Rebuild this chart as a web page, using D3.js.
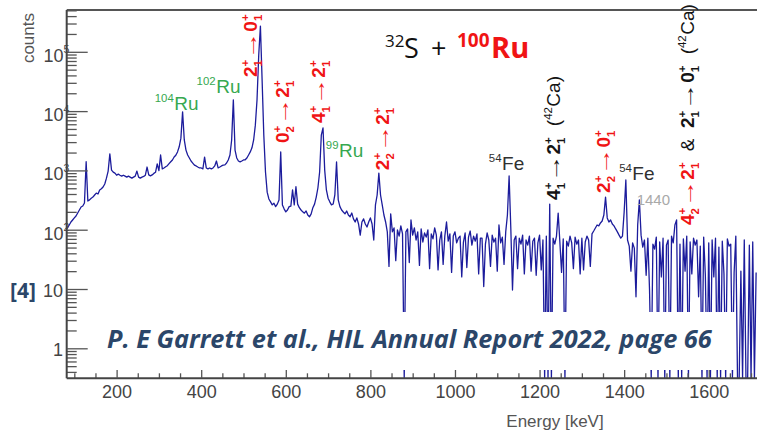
<!DOCTYPE html>
<html>
<head>
<meta charset="utf-8">
<script src="https://d3js.org/d3.v7.min.js"></script>
<style>
  html, body { margin: 0; padding: 0; background: #fff; }
  svg { display: block; }
  svg text { white-space: pre; }
</style>
</head>
<body>
<svg id="chart" width="757" height="433"></svg>
<script>
// ---- spectrum: gamma-ray counts in 4 keV bins, first bin centred at 80 keV ----
const binStart = 80;
const binWidth = 4;
const counts = [
  103,107,120,135,146,158,170,191,215,242,251,282,1400,305,318,340,355,385,415,400,
  468,490,525,590,740,975,1900,1010,935,900,830,865,830,800,830,800,770,800,770,740,
  770,800,975,770,740,770,790,830,1140,840,810,840,890,930,1290,990,1820,1060,1100,1150,
  1200,1300,1400,1500,1680,1800,2050,2500,3500,9700,3260,2200,1820,1620,1440,1330,1230,1190,1140,1100,
  1100,1060,1680,1100,1060,1100,1060,1100,1190,1440,1100,1140,1190,1230,1240,1330,1500,1820,3260,15500,
  2200,1620,1440,1390,1440,1500,1510,1620,1820,2050,2400,3260,5800,15500,87000,272000,33500,3950,940,430,
  330,295,262,280,245,270,318,2050,262,225,200,215,245,250,470,262,530,270,235,215,
  200,190,207,177,165,185,235,270,355,510,940,3950,5200,1010,468,340,295,262,271,385,
  1390,318,245,215,199,185,207,177,165,191,152,135,158,125,81,135,152,125,111,135,
  158,125,67,262,385,900,385,262,177,135,92,24,185,92,107,30,99,78,116,85,
  0,92,103,28,146,81,107,67,92,25,103,62,88,75,99,22,85,70,107,81,
  21,67,92,26,78,135,64,85,19,78,92,60,72,78,16,62,88,23,75,95,
  55,78,64,85,18,72,72,11,57,88,67,24,81,62,72,20,120,60,75,26,
  92,177,805,107,9.6,67,78,22,72,57,81,18,67,55,78,20,64,72,17,60,
  81,21,67,0,78,0,271,0,72,57,78,191,62,19,70,0,64,53,78,60,
  22,75,57,67,18,72,21,62,78,67,24,85,95,107,120,116,130,140,177,355,
  158,135,146,125,116,103,92,81,72,78,199,690,67,53,20,60,49,7.4,120,318,
  81,51,67,17,72,9.6,0,57,47,75,0,62,16,72,0,55,67,0,78,60,
  120,146,0,57,0,70,20,78,0,62,18,72,55,67,7.4,53,0,75,17,0,
  60,0,67,16,72,0,51,0,64,18,0,70,53,57,0,19,78,0,0,20,
  0,67,0,0,55,0,62,0,19
];

// ---- axes ----
const energyTicks = [200, 400, 600, 800, 1000, 1200, 1400, 1600];
const energyMinorStep = 50;
const countDecades = [1, 10, 100, 1000, 10000, 100000];
const decadeBase = ["1", "10", "10", "10", "10", "10"];
const decadeExp = ["", "", "2", "3", "4", "5"];

// ---- peak identifications (anchor energy in keV, anchor height in counts) ----
// "up" labels are written bottom-to-top; ^{..} raised, _{..} lowered, ">" an arrow
const peakLabels = [
  { E: 342,  c: 10400, up: false, runs: [["contam", "^{104}Ru"]] },
  { E: 441,  c: 20200, up: false, runs: [["contam", "^{102}Ru"]] },
  { E: 516,  c: 37600, up: true,  runs: [["ru100", "2^{+}_{1}>0^{+}_{1}"]] },
  { E: 591,  c: 2900,  up: true,  runs: [["ru100", "0^{+}_{2}>2^{+}_{1}"]] },
  { E: 677,  c: 6300,  up: true,  runs: [["ru100", "4^{+}_{1}>2^{+}_{1}"]] },
  { E: 739,  c: 1680,  up: false, runs: [["contam", "^{99}Ru"]] },
  { E: 827,  c: 1010,  up: true,  runs: [["ru100", "2^{+}_{2}>2^{+}_{1}"]] },
  { E: 1122, c: 1010,  up: false, runs: [["fe", "^{54}Fe"]] },
  { E: 1232, c: 318,   up: true,  runs: [["ca42b", "4^{+}_{1}>2^{+}_{1}"], ["ca42", "  (^{42}Ca)"]] },
  { E: 1350, c: 417,   up: true,  runs: [["ru100", "2^{+}_{2}>0^{+}_{1}"]] },
  { E: 1430, c: 690,   up: false, runs: [["fe", "^{54}Fe"]] },
  { E: 1469, c: 262,   up: false, runs: [["unk", "1440"]] },
  { E: 1548, c: 120,   up: true,  runs: [["ru100", "4^{+}_{2}>2^{+}_{1}"], ["ca42", "  &  "], ["ca42b", "2^{+}_{1}>0^{+}_{1}"], ["ca42", "  (^{42}Ca)"]] }
];

const citation = "P. E Garrett et al., HIL Annual Report 2022, page 66";
const refMark = "[4]";

// ---- styling ----
const red = "#f01414";
const navy = "#2b4669";
const ink = "#444";
const labelFont = "'Liberation Sans', Arial, Helvetica, sans-serif";
const noteFont = "'Open Sans', Lato, sans-serif";
const runStyles = {
  ru100:  { fill: red,       weight: "bold",   size: 19 },
  contam: { fill: "#37a850", weight: "normal", size: 19 },
  ca42b:  { fill: "#141414", weight: "bold",   size: 19 },
  ca42:   { fill: "#141414", weight: "normal", size: 19 },
  fe:     { fill: "#303030", weight: "normal", size: 19 },
  unk:    { fill: "#a9a9a9", weight: "normal", size: 15 }
};

const svg = d3.select("#chart");
const W = 757, H = 433;
const plot = { left: 66.7, top: 10, bottom: 378.3, right: 759.5 };

const x = d3.scaleLinear().domain([82, 1720]).range([plot.left, plot.right]);
const y = d3.scaleLog().domain([0.312, 5.07e5]).range([plot.bottom, plot.top]);
const yMin = y.domain()[0];

const spectrum = counts.map((c, i) => ({ E: binStart + i * binWidth, c }));

// ---- spectrum trace ----
svg.append("clipPath").attr("id", "plotClip")
  .append("rect")
  .attr("x", plot.left).attr("y", plot.top)
  .attr("width", W - plot.left).attr("height", plot.bottom - plot.top);

svg.append("path")
  .datum(spectrum)
  .attr("clip-path", "url(#plotClip)")
  .attr("fill", "none")
  .attr("stroke", "#1c1c9c")
  .attr("stroke-width", 1.3)
  .attr("stroke-linejoin", "round")
  .attr("d", d3.line().x(d => x(d.E)).y(d => y(Math.max(d.c, yMin))));

// ---- frame and axes ----
svg.append("line")
  .attr("x1", plot.left).attr("x2", W)
  .attr("y1", plot.top).attr("y2", plot.top)
  .attr("stroke", "#555").attr("stroke-width", 2);

const minorEnergies = d3.range(100, 1751, energyMinorStep).filter(e => !energyTicks.includes(e));
const xMinor = svg.append("g").attr("transform", `translate(0,${plot.bottom})`)
  .call(d3.axisBottom(x).tickValues(minorEnergies).tickSize(-5).tickSizeOuter(0).tickFormat(""));
xMinor.select(".domain").remove();

const xAxis = svg.append("g").attr("transform", `translate(0,${plot.bottom})`)
  .call(d3.axisBottom(x).tickValues(energyTicks).tickSize(-9).tickSizeOuter(0).tickPadding(7).tickFormat(d3.format("d")));
xAxis.select(".domain").attr("stroke", "#444").attr("stroke-width", 2)
  .attr("d", `M${plot.left},0H${W}`);
xAxis.selectAll("text").attr("font-family", labelFont).attr("font-size", 18).attr("fill", ink);

const minorCounts = [];
for (let d = -1; d <= 5; d++) {
  for (let k = 2; k <= 9; k++) {
    const v = k * Math.pow(10, d);
    if (v > yMin && v < y.domain()[1]) minorCounts.push(v);
  }
}
const yMinor = svg.append("g").attr("transform", `translate(${plot.left},0)`)
  .call(d3.axisLeft(y).tickValues(minorCounts).tickSize(-10).tickSizeOuter(0).tickFormat(""));
yMinor.select(".domain").remove();

const yAxis = svg.append("g").attr("transform", `translate(${plot.left},0)`)
  .call(d3.axisLeft(y).tickValues(countDecades).tickSize(-21).tickSizeOuter(0).tickFormat(""));
yAxis.select(".domain").attr("stroke", "#444").attr("stroke-width", 2)
  .attr("d", `M0,${plot.bottom}V${plot.top}`);

// decade labels: "10" with a raised exponent, written as one text
yAxis.selectAll(".tick").each(function (v, i) {
  const g = d3.select(this);
  const hasExp = decadeExp[i] !== "";
  const t = g.append("text")
    .attr("text-anchor", "end")
    .attr("font-family", labelFont).attr("fill", ink);
  if (hasExp) {
    t.attr("x", 2.6).attr("y", 9.5);
    t.append("tspan").attr("font-size", 18).text(decadeBase[i]);
    t.append("tspan").attr("font-size", 10.5).attr("dy", -8.5).text(decadeExp[i]);
  } else {
    t.attr("x", -3.7).attr("y", 7.5).attr("font-size", 18).text(decadeBase[i]);
  }
});

svg.selectAll(".tick line").attr("stroke", "#555").attr("stroke-width", 1.3);

// axis titles
svg.append("text")
  .attr("transform", "translate(34,13) rotate(-90)")
  .attr("text-anchor", "end")
  .attr("font-family", labelFont).attr("font-size", 17).attr("fill", "#555")
  .text("counts");

svg.append("text")
  .attr("x", 555).attr("y", 427)
  .attr("text-anchor", "middle")
  .attr("font-family", labelFont).attr("font-size", 17).attr("fill", "#555")
  .text("Energy [keV]");

// ---- peak labels ----
function tokenize(src) {
  const out = [];
  let buf = "", i = 0;
  const flush = () => { if (buf) { out.push({ type: "txt", v: buf }); buf = ""; } };
  const grab = () => {
    const j = src.indexOf("}", i);
    const v = src.slice(i + 1, j);
    i = j + 1;
    return v;
  };
  while (i < src.length) {
    const ch = src[i];
    if (ch === "^" || ch === "_") {
      flush();
      const tok = { type: "script" };
      while (src[i] === "^" || src[i] === "_") {
        const key = src[i] === "^" ? "sup" : "sub";
        i++;
        tok[key] = grab();
      }
      out.push(tok);
    } else if (ch === ">") {
      flush();
      out.push({ type: "arrow" });
      i++;
    } else {
      buf += ch;
      i++;
    }
  }
  flush();
  return out;
}

function drawRuns(g, runs) {
  let cx = 0;
  runs.forEach(([key, src]) => {
    const st = runStyles[key];
    const fs = st.size;
    const piece = (txt, size, yy) => g.append("text")
      .attr("x", cx).attr("y", yy)
      .attr("font-family", labelFont).attr("font-size", size)
      .attr("font-weight", st.weight).attr("fill", st.fill)
      .text(txt);
    tokenize(src).forEach(tok => {
      if (tok.type === "txt") {
        cx += piece(tok.v, fs, 0).node().getComputedTextLength();
      } else if (tok.type === "script") {
        const ss = fs * 0.6;
        let w = 0;
        if (tok.sup) w = Math.max(w, piece(tok.sup, ss, -fs * 0.42).node().getComputedTextLength());
        if (tok.sub) w = Math.max(w, piece(tok.sub, ss, fs * 0.26).node().getComputedTextLength());
        cx += w + fs * 0.03;
      } else {
        const t = piece("\u2192", fs, 0).attr("x", 0);
        const w = t.node().getComputedTextLength();
        const target = fs * 1.45;
        t.attr("transform", `translate(${cx},0) scale(${target / w},1)`);
        cx += target;
      }
    });
  });
  return cx;
}

peakLabels.forEach(lab => {
  const g = svg.append("g");
  const inner = g.append("g");
  const width = drawRuns(inner, lab.runs);
  const px = x(lab.E), py = y(lab.c);
  if (lab.up) {
    const fs = runStyles[lab.runs[0][0]].size;
    g.attr("transform", `translate(${px + fs * 0.36},${py}) rotate(-90)`);
  } else {
    g.attr("transform", `translate(${px - width / 2},${py})`);
  }
});

// ---- reaction title ----
const title = svg.append("text").attr("y", 58).attr("font-family", noteFont).attr("fill", "#111");
title.append("tspan").attr("x", 385).attr("dy", -11).attr("font-size", 17).text("32");
title.append("tspan").attr("x", 404).attr("dy", 11).attr("font-size", 27).text("S");
title.append("tspan").attr("x", 431).attr("font-size", 27).text("+");
title.append("tspan").attr("x", 457).attr("dy", -11).attr("font-size", 19)
  .attr("font-weight", "bold").attr("fill", red).text("100");
title.append("tspan").attr("x", 491).attr("dy", 11).attr("font-size", 29)
  .attr("font-weight", "bold").attr("fill", red).text("Ru");

// ---- source note ----
svg.append("rect")
  .attr("x", 95).attr("y", 312).attr("width", 641).attr("height", 58)
  .attr("fill", "#fff");

const cite = svg.append("text")
  .attr("x", 107).attr("y", 348)
  .attr("font-family", noteFont).attr("font-weight", "bold").attr("font-style", "italic")
  .attr("fill", navy).attr("font-size", 22)
  .text(citation);
const cw = cite.node().getComputedTextLength();
cite.attr("font-size", 22 * 605 / cw);

svg.append("text")
  .attr("x", 10).attr("y", 298)
  .attr("font-family", noteFont).attr("font-weight", "bold")
  .attr("fill", navy).attr("font-size", 21)
  .text(refMark);
</script>
</body>
</html>
